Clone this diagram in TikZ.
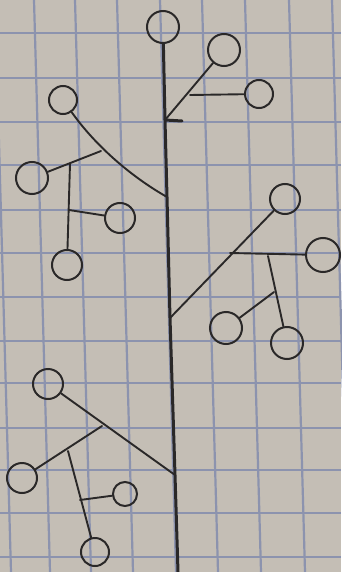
\documentclass[tikz,border=0pt]{standalone}
\begin{document}
\begin{tikzpicture}[x=1pt,y=-1pt,
  leaf/.style={circle,draw=ink,line width=2pt,inner sep=0pt,minimum size=#1},
  leaf/.default=30pt,
  stem/.style={draw=ink,line width=1.9pt,line cap=round},
  trunkline/.style={draw=ink,line width=3pt,line cap=round},
  gridline/.style={draw=gridc,line width=2.2pt}]
\definecolor{paper}{RGB}{196,190,181}
\definecolor{gridc}{RGB}{140,147,174}
\definecolor{ink}{RGB}{42,40,40}
\fill[paper] (0,0) rectangle (341,572);
\useasboundingbox (0,0) rectangle (341,572);
% grid paper
\foreach \x in {-5,34,75,117,160,202,245,289,332}
  \draw[gridline] (\x,0) -- (\x+16,572);
\foreach \y in {33,78,122,165,210,253,297,341,383,428,470,513,557}
  \draw[gridline] (0,\y) -- (341,\y);
% leaves
\node[leaf=32pt] (c0)  at (163,27) {};
\node[leaf=32pt] (c1)  at (224,50) {};
\node[leaf=28pt] (c2)  at (259,94) {};
\node[leaf=28pt] (c3)  at (63,100) {};
\node[leaf=32pt] (c4)  at (32,178) {};
\node[leaf=30pt] (c5)  at (120,218) {};
\node[leaf=30pt] (c6)  at (67,265) {};
\node[leaf=30pt] (c7)  at (285,199) {};
\node[leaf=34pt] (c8)  at (323,255) {};
\node[leaf=32pt] (c9)  at (226,328) {};
\node[leaf=32pt] (c10) at (287,343) {};
\node[leaf=30pt] (c11) at (48,384) {};
\node[leaf=30pt] (c12) at (22,478) {};
\node[leaf=24pt] (c13) at (125,494) {};
\node[leaf=28pt] (c14) at (95,552) {};
% junctions
\coordinate (j1) at (165,120);
\coordinate (j2) at (167,197);
\coordinate (j3) at (170,318);
\coordinate (j4) at (175,475);
\coordinate (tbot) at (178,572);
\coordinate (tick) at (182,121);
\coordinate (a1) at (190,95);
\coordinate (b1) at (101,151);
\coordinate (b2) at (70,164);
\coordinate (b3) at (69,210);
\coordinate (cc1) at (230,253);
\coordinate (cc2) at (268,256);
\coordinate (cc3) at (274,292);
\coordinate (d1) at (102,426);
\coordinate (d2) at (68,451);
\coordinate (d3) at (80,500);
% trunk
\draw[trunkline] (c0) -- (j1) -- (j2) -- (j3) -- (j4) -- (tbot);
\draw[trunkline] (j1) -- (tick);
% upper right branch
\draw[stem] (j1) -- (c1);
\draw[stem] (a1) -- (c2);
% upper left branch
\draw[stem] (j2) .. controls (130,176) and (95,145) .. (c3);
\draw[stem] (b1) -- (c4);
\draw[stem] (b2) -- (c6);
\draw[stem] (b3) -- (c5);
% middle right branch
\draw[stem] (j3) -- (c7);
\draw[stem] (cc1) -- (c8);
\draw[stem] (cc2) -- (c10);
\draw[stem] (cc3) -- (c9);
% lower left branch
\draw[stem] (j4) -- (c11);
\draw[stem] (d1) -- (c12);
\draw[stem] (d2) -- (c14);
\draw[stem] (d3) -- (c13);
\end{tikzpicture}
\end{document}
